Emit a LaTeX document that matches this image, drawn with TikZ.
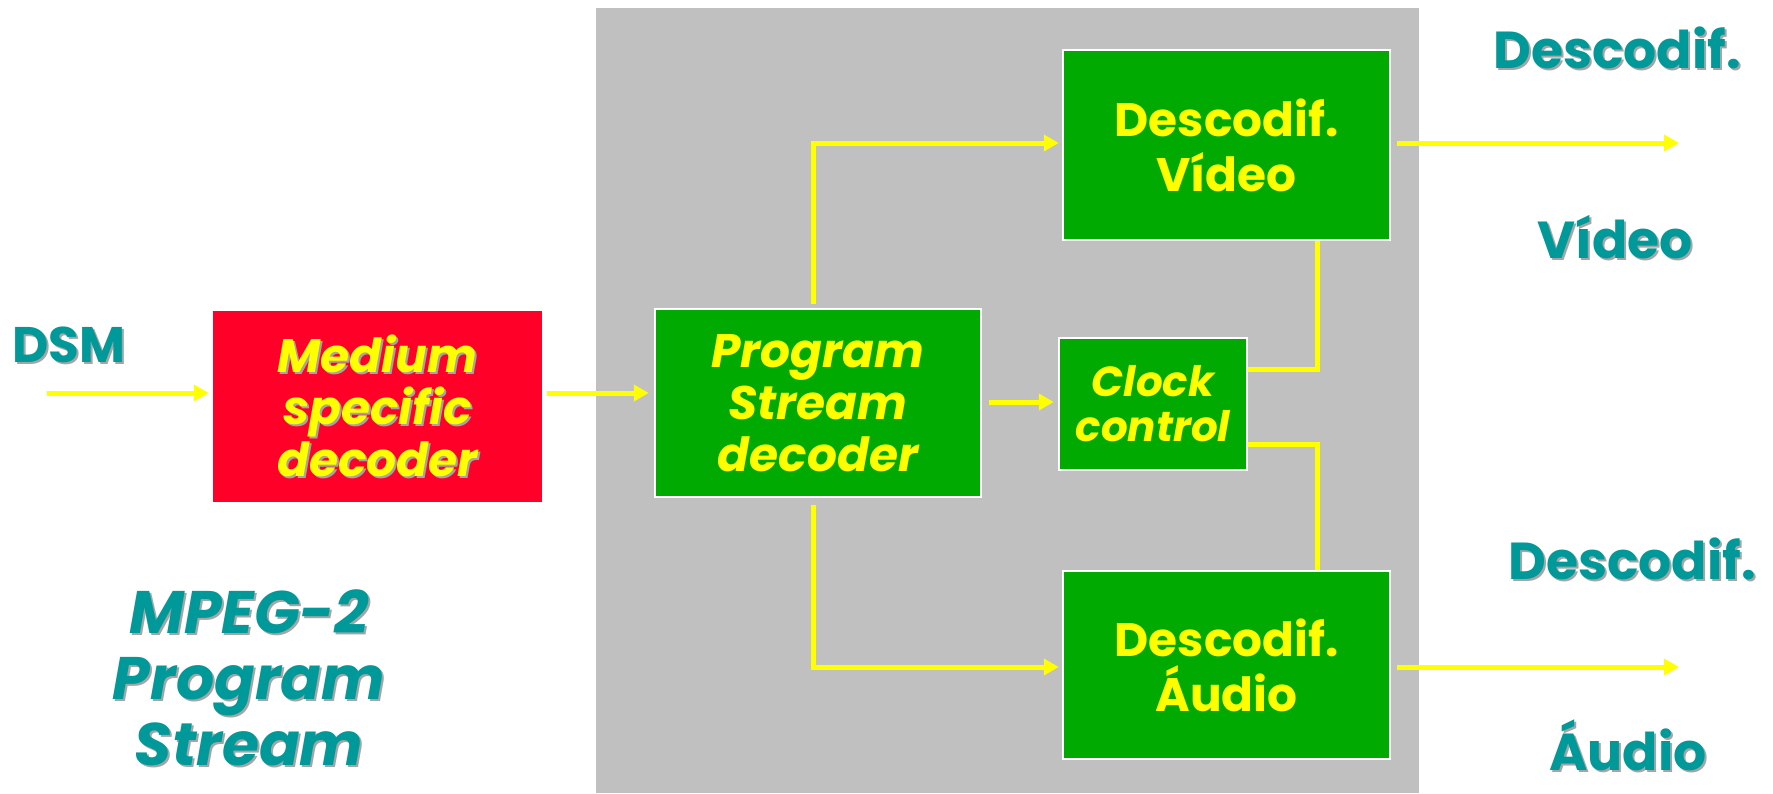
\documentclass[tikz,border=0pt]{standalone}
\usepackage{fontspec}
\setmainfont{Poppins}
\usetikzlibrary{arrows.meta}
\definecolor{tealtxt}{RGB}{0,153,153}
\definecolor{boxgreen}{RGB}{0,170,0}
\definecolor{boxred}{RGB}{255,0,40}
\definecolor{ylw}{RGB}{255,255,0}
\definecolor{bggray}{RGB}{192,192,192}
\definecolor{shdgray}{RGB}{165,165,165}
\newcommand\shd[1]{\leavevmode\rlap{\kern2pt\raisebox{-2pt}{\color{shdgray}#1}}#1}
\tikzset{
  gbox/.style={fill=boxgreen, draw=white, line width=2.5pt, text=ylw, align=center, inner sep=0pt},
  boxfont/.style={font=\fontsize{47}{52}\selectfont\bfseries\itshape},
  decfont/.style={font=\fontsize{47}{55}\selectfont\bfseries},
  tl/.style={text=tealtxt, font=\fontsize{52}{60}\selectfont\bfseries, inner sep=0pt, anchor=base},
  arr/.style={draw=ylw, line width=5pt, -{Triangle[length=15pt,width=16pt]}},
  wire/.style={draw=ylw, line width=5pt},
}
\begin{document}
\begin{tikzpicture}[x=1pt,y=-1pt]
\useasboundingbox (0,0) rectangle (1773,793);
\fill[white] (0,0) rectangle (1773,793);
\fill[bggray] (596,8) rectangle (1419,793);

% boxes
\node[fill=boxred, text=ylw, align=center, inner sep=0pt, minimum width=329pt, minimum height=191pt, boxfont] (red) at (377.5,406.5)
  {\shd{Medium}\\\shd{specific}\\\shd{decoder}};
\node[gbox, boxfont, minimum width=326pt, minimum height=188pt] (psd) at (818,403)
  {Program\\Stream\\decoder};
\node[gbox, minimum width=188pt, minimum height=132pt, font=\fontsize{42}{45}\selectfont\bfseries\itshape] (clk) at (1153,404)
  {Clock\\control};
\node[gbox, decfont, minimum width=327pt, minimum height=190pt] (vid) at (1226.5,145)
  {Descodif.\\Vídeo};
\node[gbox, decfont, minimum width=327pt, minimum height=188pt] (aud) at (1226.5,665)
  {Descodif.\\Áudio};

% labels
\node[tl, font=\fontsize{50}{55}\selectfont\bfseries] (dsm) at (69,362) {\shd{DSM}};
\node[tl] (lv1) at (1617,68) {\shd{Descodif.}};
\node[tl] (lv2) at (1615,258) {\shd{Vídeo}};
\node[tl] (la1) at (1632,579) {\shd{Descodif.}};
\node[tl] (la2) at (1628,770) {\shd{Áudio}};
\node[text=tealtxt, align=center, inner sep=0pt, font=\fontsize{60}{66}\selectfont\bfseries\itshape] (title) at (249,679)
  {\shd{MPEG-2}\\\shd{Program}\\\shd{Stream}};

% helper coordinates
\coordinate (in) at (47,393);
\coordinate (yin) at (0,393);
\coordinate (yclk) at (0,402);
\coordinate (ytop) at (0,143);
\coordinate (ybot) at (0,667);
\coordinate (xv) at (813,0);
\coordinate (xr) at (1317,0);
\coordinate (yc1) at (0,369);
\coordinate (yc2) at (0,444);
\coordinate (outv) at (1679,143);
\coordinate (outa) at (1679,667);

% connectors
\draw[arr, shorten >=4pt] (in) -- (red.west |- yin);
\draw[arr, shorten <=5pt, shorten >=5pt] (red.east |- yin) -- (psd.west |- yin);
\draw[arr, shorten <=7pt, shorten >=4pt] (psd.east |- yclk) -- (clk.west |- yclk);
\draw[arr, shorten <=4pt, shorten >=3pt] (psd.north -| xv) |- (vid.west |- ytop);
\draw[arr, shorten <=7pt, shorten >=3pt] (psd.south -| xv) |- (aud.west |- ybot);
\draw[wire] (clk.east |- yc1) -| (vid.south -| xr);
\draw[wire] (clk.east |- yc2) -| (aud.north -| xr);
\draw[arr, shorten <=6pt] (vid.east |- ytop) -- (outv);
\draw[arr, shorten <=6pt] (aud.east |- ybot) -- (outa);
\end{tikzpicture}
\end{document}
